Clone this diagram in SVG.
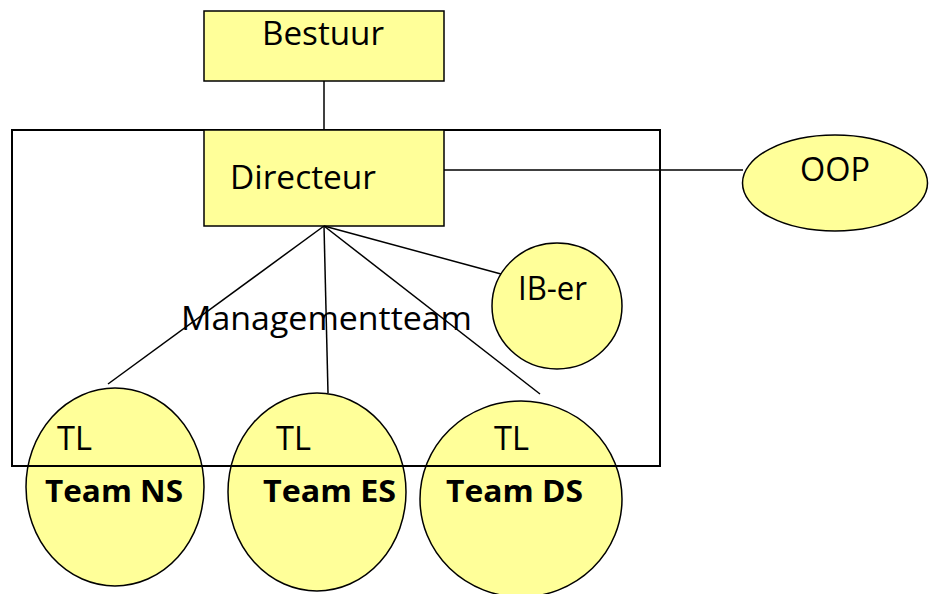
<svg xmlns="http://www.w3.org/2000/svg" width="930" height="594" viewBox="0 0 930 594">
<style>
.node{fill:#FFFF99;stroke:#000;stroke-width:1.5}
.lbl{font-family:"Open Sans","Noto Sans",sans-serif;font-size:32px;fill:#000}
.b{font-weight:bold;font-size:31px}
.conn line{stroke:#000;stroke-width:1.5}
</style>
<rect width="930" height="594" fill="#fff"/>
<g id="team-ns"><ellipse class="node" cx="115" cy="487" rx="89" ry="99"/>
<text class="lbl" x="57" y="450" textLength="35" lengthAdjust="spacingAndGlyphs">TL</text><text class="lbl b" x="45" y="502" textLength="138" lengthAdjust="spacingAndGlyphs">Team NS</text></g>
<g id="team-es"><ellipse class="node" cx="317" cy="492" rx="89" ry="99"/>
<text class="lbl" x="276" y="450" textLength="35" lengthAdjust="spacingAndGlyphs">TL</text><text class="lbl b" x="263" y="502" textLength="133" lengthAdjust="spacingAndGlyphs">Team ES</text></g>
<g id="team-ds"><ellipse class="node" cx="521" cy="499" rx="101" ry="98"/>
<text class="lbl" x="494" y="450" textLength="35" lengthAdjust="spacingAndGlyphs">TL</text><text class="lbl b" x="446" y="502" textLength="137" lengthAdjust="spacingAndGlyphs">Team DS</text></g>
<g id="managementteam"><rect x="12" y="130" width="648" height="336" fill="none" stroke="#000" stroke-width="2"/>
<text class="lbl" x="181" y="330" textLength="291" lengthAdjust="spacingAndGlyphs">Managementteam</text></g>
<g id="bestuur"><rect class="node" x="204" y="11" width="240" height="70"/><text class="lbl" x="262" y="45" textLength="122" lengthAdjust="spacingAndGlyphs">Bestuur</text></g>
<g id="directeur"><rect class="node" x="204" y="130" width="240" height="96"/><text class="lbl" x="230" y="189" textLength="146" lengthAdjust="spacingAndGlyphs">Directeur</text></g>
<g id="oop"><ellipse class="node" cx="835" cy="183" rx="92.5" ry="48"/><text class="lbl" x="800" y="181" textLength="70" lengthAdjust="spacingAndGlyphs">OOP</text></g>
<g id="ib-er"><ellipse class="node" cx="557" cy="306" rx="65" ry="63"/><text class="lbl" x="518" y="300" textLength="69" lengthAdjust="spacingAndGlyphs">IB-er</text></g>
<g class="conn" id="connectors">
<line x1="324" y1="81" x2="324" y2="130"/>
<line x1="444" y1="170" x2="743" y2="170"/>
<line x1="324" y1="226" x2="108" y2="384"/>
<line x1="324" y1="226" x2="328" y2="393"/>
<line x1="324" y1="226" x2="540" y2="394"/>
<line x1="324" y1="226" x2="501" y2="274"/>
</g>
</svg>
